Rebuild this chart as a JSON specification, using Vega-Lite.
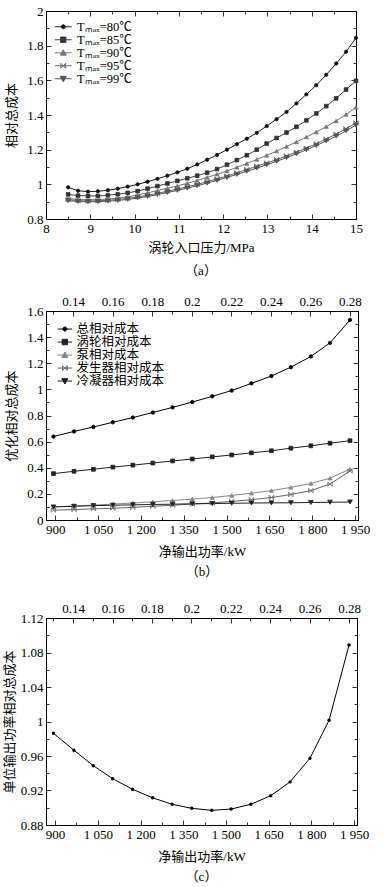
{
"$schema": "https://vega.github.io/schema/vega-lite/v6.json",
"padding": {"left": 2, "top": 4, "right": 5, "bottom": 5},
"spacing": 13,
"config": {
 "font": "Liberation Serif, Noto Sans CJK SC",
 "view": {"stroke": "#000", "strokeWidth": 1},
 "axis": {"domainColor": "#000", "domainWidth": 1, "tickColor": "#000", "tickWidth": 0.8, "labelColor": "#000", "titleColor": "#000", "labelFontSize": 13, "titleFontSize": 13, "titleFontWeight": "normal", "grid": false, "labelOverlap": false, "labelFlush": false, "labelPadding": 8, "labelFont": "Liberation Serif, Noto Sans CJK SC", "titleFont": "Liberation Serif, Noto Sans CJK SC"},
 "legend": {"labelFont": "Liberation Serif, Noto Sans CJK SC", "labelFontSize": 12.5, "labelColor": "#000"},
 "title": {"font": "Liberation Serif, Noto Sans CJK SC", "fontSize": 13, "fontWeight": "normal", "color": "#000"}
},
"datasets": {
 "a": [
  {"p":8.5,"c":0.983,"s":"80"},{"p":8.724,"c":0.963,"s":"80"},{"p":8.948,"c":0.958,"s":"80"},{"p":9.172,"c":0.96,"s":"80"},{"p":9.397,"c":0.966,"s":"80"},{"p":9.621,"c":0.975,"s":"80"},{"p":9.845,"c":0.987,"s":"80"},{"p":10.069,"c":1.0,"s":"80"},{"p":10.293,"c":1.015,"s":"80"},{"p":10.517,"c":1.032,"s":"80"},{"p":10.741,"c":1.05,"s":"80"},{"p":10.966,"c":1.069,"s":"80"},{"p":11.19,"c":1.09,"s":"80"},{"p":11.414,"c":1.115,"s":"80"},{"p":11.638,"c":1.142,"s":"80"},{"p":11.862,"c":1.17,"s":"80"},{"p":12.086,"c":1.2,"s":"80"},{"p":12.31,"c":1.232,"s":"80"},{"p":12.534,"c":1.263,"s":"80"},{"p":12.759,"c":1.297,"s":"80"},{"p":12.983,"c":1.336,"s":"80"},{"p":13.207,"c":1.376,"s":"80"},{"p":13.431,"c":1.418,"s":"80"},{"p":13.655,"c":1.467,"s":"80"},{"p":13.879,"c":1.519,"s":"80"},{"p":14.103,"c":1.572,"s":"80"},{"p":14.328,"c":1.632,"s":"80"},{"p":14.552,"c":1.697,"s":"80"},{"p":14.776,"c":1.765,"s":"80"},{"p":15,"c":1.845,"s":"80"},
  {"p":8.5,"c":0.942,"s":"85"},{"p":8.724,"c":0.935,"s":"85"},{"p":8.948,"c":0.933,"s":"85"},{"p":9.172,"c":0.933,"s":"85"},{"p":9.397,"c":0.937,"s":"85"},{"p":9.621,"c":0.943,"s":"85"},{"p":9.845,"c":0.951,"s":"85"},{"p":10.069,"c":0.961,"s":"85"},{"p":10.293,"c":0.975,"s":"85"},{"p":10.517,"c":0.99,"s":"85"},{"p":10.741,"c":1.005,"s":"85"},{"p":10.966,"c":1.02,"s":"85"},{"p":11.19,"c":1.035,"s":"85"},{"p":11.414,"c":1.05,"s":"85"},{"p":11.638,"c":1.067,"s":"85"},{"p":11.862,"c":1.088,"s":"85"},{"p":12.086,"c":1.113,"s":"85"},{"p":12.31,"c":1.14,"s":"85"},{"p":12.534,"c":1.168,"s":"85"},{"p":12.759,"c":1.2,"s":"85"},{"p":12.983,"c":1.235,"s":"85"},{"p":13.207,"c":1.267,"s":"85"},{"p":13.431,"c":1.299,"s":"85"},{"p":13.655,"c":1.332,"s":"85"},{"p":13.879,"c":1.369,"s":"85"},{"p":14.103,"c":1.409,"s":"85"},{"p":14.328,"c":1.451,"s":"85"},{"p":14.552,"c":1.496,"s":"85"},{"p":14.776,"c":1.547,"s":"85"},{"p":15,"c":1.597,"s":"85"},
  {"p":8.5,"c":0.918,"s":"90"},{"p":8.724,"c":0.913,"s":"90"},{"p":8.948,"c":0.911,"s":"90"},{"p":9.172,"c":0.912,"s":"90"},{"p":9.397,"c":0.915,"s":"90"},{"p":9.621,"c":0.92,"s":"90"},{"p":9.845,"c":0.928,"s":"90"},{"p":10.069,"c":0.939,"s":"90"},{"p":10.293,"c":0.951,"s":"90"},{"p":10.517,"c":0.964,"s":"90"},{"p":10.741,"c":0.977,"s":"90"},{"p":10.966,"c":0.991,"s":"90"},{"p":11.19,"c":1.006,"s":"90"},{"p":11.414,"c":1.022,"s":"90"},{"p":11.638,"c":1.04,"s":"90"},{"p":11.862,"c":1.058,"s":"90"},{"p":12.086,"c":1.077,"s":"90"},{"p":12.31,"c":1.098,"s":"90"},{"p":12.534,"c":1.12,"s":"90"},{"p":12.759,"c":1.143,"s":"90"},{"p":12.983,"c":1.167,"s":"90"},{"p":13.207,"c":1.192,"s":"90"},{"p":13.431,"c":1.218,"s":"90"},{"p":13.655,"c":1.245,"s":"90"},{"p":13.879,"c":1.273,"s":"90"},{"p":14.103,"c":1.302,"s":"90"},{"p":14.328,"c":1.333,"s":"90"},{"p":14.552,"c":1.366,"s":"90"},{"p":14.776,"c":1.403,"s":"90"},{"p":15,"c":1.444,"s":"90"},
  {"p":8.5,"c":0.912,"s":"95"},{"p":8.724,"c":0.906,"s":"95"},{"p":8.948,"c":0.904,"s":"95"},{"p":9.172,"c":0.905,"s":"95"},{"p":9.397,"c":0.908,"s":"95"},{"p":9.621,"c":0.913,"s":"95"},{"p":9.845,"c":0.919,"s":"95"},{"p":10.069,"c":0.927,"s":"95"},{"p":10.293,"c":0.937,"s":"95"},{"p":10.517,"c":0.948,"s":"95"},{"p":10.741,"c":0.96,"s":"95"},{"p":10.966,"c":0.973,"s":"95"},{"p":11.19,"c":0.986,"s":"95"},{"p":11.414,"c":1.0,"s":"95"},{"p":11.638,"c":1.015,"s":"95"},{"p":11.862,"c":1.031,"s":"95"},{"p":12.086,"c":1.048,"s":"95"},{"p":12.31,"c":1.066,"s":"95"},{"p":12.534,"c":1.085,"s":"95"},{"p":12.759,"c":1.104,"s":"95"},{"p":12.983,"c":1.123,"s":"95"},{"p":13.207,"c":1.143,"s":"95"},{"p":13.431,"c":1.164,"s":"95"},{"p":13.655,"c":1.186,"s":"95"},{"p":13.879,"c":1.209,"s":"95"},{"p":14.103,"c":1.234,"s":"95"},{"p":14.328,"c":1.261,"s":"95"},{"p":14.552,"c":1.29,"s":"95"},{"p":14.776,"c":1.321,"s":"95"},{"p":15,"c":1.354,"s":"95"},
  {"p":8.5,"c":0.906,"s":"99"},{"p":8.724,"c":0.901,"s":"99"},{"p":8.948,"c":0.899,"s":"99"},{"p":9.172,"c":0.9,"s":"99"},{"p":9.397,"c":0.903,"s":"99"},{"p":9.621,"c":0.907,"s":"99"},{"p":9.845,"c":0.913,"s":"99"},{"p":10.069,"c":0.921,"s":"99"},{"p":10.293,"c":0.93,"s":"99"},{"p":10.517,"c":0.941,"s":"99"},{"p":10.741,"c":0.953,"s":"99"},{"p":10.966,"c":0.965,"s":"99"},{"p":11.19,"c":0.978,"s":"99"},{"p":11.414,"c":0.992,"s":"99"},{"p":11.638,"c":1.007,"s":"99"},{"p":11.862,"c":1.023,"s":"99"},{"p":12.086,"c":1.04,"s":"99"},{"p":12.31,"c":1.057,"s":"99"},{"p":12.534,"c":1.075,"s":"99"},{"p":12.759,"c":1.094,"s":"99"},{"p":12.983,"c":1.113,"s":"99"},{"p":13.207,"c":1.133,"s":"99"},{"p":13.431,"c":1.154,"s":"99"},{"p":13.655,"c":1.176,"s":"99"},{"p":13.879,"c":1.199,"s":"99"},{"p":14.103,"c":1.224,"s":"99"},{"p":14.328,"c":1.25,"s":"99"},{"p":14.552,"c":1.278,"s":"99"},{"p":14.776,"c":1.309,"s":"99"},{"p":15,"c":1.342,"s":"99"}
 ],
 "b": [
  {"r":0.13,"w":894,"c":0.639,"s":"总相对成本"},{"r":0.14,"w":966,"c":0.678,"s":"总相对成本"},{"r":0.15,"w":1034,"c":0.712,"s":"总相对成本"},{"r":0.16,"w":1102,"c":0.748,"s":"总相对成本"},{"r":0.17,"w":1172,"c":0.784,"s":"总相对成本"},{"r":0.18,"w":1242,"c":0.823,"s":"总相对成本"},{"r":0.19,"w":1311,"c":0.862,"s":"总相对成本"},{"r":0.2,"w":1380,"c":0.903,"s":"总相对成本"},{"r":0.21,"w":1450,"c":0.947,"s":"总相对成本"},{"r":0.22,"w":1518,"c":0.991,"s":"总相对成本"},{"r":0.23,"w":1587,"c":1.046,"s":"总相对成本"},{"r":0.24,"w":1657,"c":1.102,"s":"总相对成本"},{"r":0.25,"w":1725,"c":1.17,"s":"总相对成本"},{"r":0.26,"w":1795,"c":1.252,"s":"总相对成本"},{"r":0.27,"w":1862,"c":1.356,"s":"总相对成本"},{"r":0.28,"w":1932,"c":1.532,"s":"总相对成本"},
  {"r":0.13,"w":894,"c":0.355,"s":"涡轮相对成本"},{"r":0.14,"w":966,"c":0.373,"s":"涡轮相对成本"},{"r":0.15,"w":1034,"c":0.388,"s":"涡轮相对成本"},{"r":0.16,"w":1102,"c":0.405,"s":"涡轮相对成本"},{"r":0.17,"w":1172,"c":0.42,"s":"涡轮相对成本"},{"r":0.18,"w":1242,"c":0.436,"s":"涡轮相对成本"},{"r":0.19,"w":1311,"c":0.452,"s":"涡轮相对成本"},{"r":0.2,"w":1380,"c":0.467,"s":"涡轮相对成本"},{"r":0.21,"w":1450,"c":0.483,"s":"涡轮相对成本"},{"r":0.22,"w":1518,"c":0.498,"s":"涡轮相对成本"},{"r":0.23,"w":1587,"c":0.514,"s":"涡轮相对成本"},{"r":0.24,"w":1657,"c":0.53,"s":"涡轮相对成本"},{"r":0.25,"w":1725,"c":0.55,"s":"涡轮相对成本"},{"r":0.26,"w":1795,"c":0.568,"s":"涡轮相对成本"},{"r":0.27,"w":1862,"c":0.588,"s":"涡轮相对成本"},{"r":0.28,"w":1932,"c":0.607,"s":"涡轮相对成本"},
  {"r":0.13,"w":894,"c":0.1,"s":"泵相对成本"},{"r":0.14,"w":966,"c":0.107,"s":"泵相对成本"},{"r":0.15,"w":1034,"c":0.114,"s":"泵相对成本"},{"r":0.16,"w":1102,"c":0.122,"s":"泵相对成本"},{"r":0.17,"w":1172,"c":0.13,"s":"泵相对成本"},{"r":0.18,"w":1242,"c":0.139,"s":"泵相对成本"},{"r":0.19,"w":1311,"c":0.149,"s":"泵相对成本"},{"r":0.2,"w":1380,"c":0.16,"s":"泵相对成本"},{"r":0.21,"w":1450,"c":0.172,"s":"泵相对成本"},{"r":0.22,"w":1518,"c":0.188,"s":"泵相对成本"},{"r":0.23,"w":1587,"c":0.205,"s":"泵相对成本"},{"r":0.24,"w":1657,"c":0.225,"s":"泵相对成本"},{"r":0.25,"w":1725,"c":0.25,"s":"泵相对成本"},{"r":0.26,"w":1795,"c":0.28,"s":"泵相对成本"},{"r":0.27,"w":1862,"c":0.32,"s":"泵相对成本"},{"r":0.28,"w":1932,"c":0.39,"s":"泵相对成本"},
  {"r":0.13,"w":894,"c":0.075,"s":"发生器相对成本"},{"r":0.14,"w":966,"c":0.08,"s":"发生器相对成本"},{"r":0.15,"w":1034,"c":0.085,"s":"发生器相对成本"},{"r":0.16,"w":1102,"c":0.09,"s":"发生器相对成本"},{"r":0.17,"w":1172,"c":0.097,"s":"发生器相对成本"},{"r":0.18,"w":1242,"c":0.105,"s":"发生器相对成本"},{"r":0.19,"w":1311,"c":0.113,"s":"发生器相对成本"},{"r":0.2,"w":1380,"c":0.122,"s":"发生器相对成本"},{"r":0.21,"w":1450,"c":0.131,"s":"发生器相对成本"},{"r":0.22,"w":1518,"c":0.142,"s":"发生器相对成本"},{"r":0.23,"w":1587,"c":0.155,"s":"发生器相对成本"},{"r":0.24,"w":1657,"c":0.172,"s":"发生器相对成本"},{"r":0.25,"w":1725,"c":0.195,"s":"发生器相对成本"},{"r":0.26,"w":1795,"c":0.225,"s":"发生器相对成本"},{"r":0.27,"w":1862,"c":0.275,"s":"发生器相对成本"},{"r":0.28,"w":1932,"c":0.375,"s":"发生器相对成本"},
  {"r":0.13,"w":894,"c":0.1,"s":"冷凝器相对成本"},{"r":0.14,"w":966,"c":0.105,"s":"冷凝器相对成本"},{"r":0.15,"w":1034,"c":0.11,"s":"冷凝器相对成本"},{"r":0.16,"w":1102,"c":0.113,"s":"冷凝器相对成本"},{"r":0.17,"w":1172,"c":0.116,"s":"冷凝器相对成本"},{"r":0.18,"w":1242,"c":0.119,"s":"冷凝器相对成本"},{"r":0.19,"w":1311,"c":0.121,"s":"冷凝器相对成本"},{"r":0.2,"w":1380,"c":0.124,"s":"冷凝器相对成本"},{"r":0.21,"w":1450,"c":0.126,"s":"冷凝器相对成本"},{"r":0.22,"w":1518,"c":0.128,"s":"冷凝器相对成本"},{"r":0.23,"w":1587,"c":0.13,"s":"冷凝器相对成本"},{"r":0.24,"w":1657,"c":0.131,"s":"冷凝器相对成本"},{"r":0.25,"w":1725,"c":0.132,"s":"冷凝器相对成本"},{"r":0.26,"w":1795,"c":0.134,"s":"冷凝器相对成本"},{"r":0.27,"w":1862,"c":0.136,"s":"冷凝器相对成本"},{"r":0.28,"w":1932,"c":0.138,"s":"冷凝器相对成本"}
 ],
 "c": [
  {"r":0.13,"w":894,"c":0.9864},{"r":0.14,"w":966,"c":0.9667},{"r":0.15,"w":1034,"c":0.9488},{"r":0.16,"w":1102,"c":0.9337},{"r":0.17,"w":1172,"c":0.9214},{"r":0.18,"w":1242,"c":0.9116},{"r":0.19,"w":1311,"c":0.904},{"r":0.2,"w":1380,"c":0.8993},{"r":0.21,"w":1450,"c":0.897},{"r":0.22,"w":1518,"c":0.8985},{"r":0.23,"w":1587,"c":0.904},{"r":0.24,"w":1657,"c":0.914},{"r":0.25,"w":1725,"c":0.93},{"r":0.26,"w":1795,"c":0.9575},{"r":0.27,"w":1862,"c":1.0015},{"r":0.28,"w":1932,"c":1.0886}
 ]
},
"vconcat": [
 {
  "width": 310, "height": 208,
  "data": {"name": "a"},
  "title": {"text": "（a）", "orient": "bottom", "offset": 11},
  "layer": [
   {"mark": {"type": "line", "strokeWidth": 1},
    "encoding": {
     "x": {"field": "p", "type": "quantitative", "scale": {"domain": [8, 15], "nice": false, "zero": false},
       "axis": {"orient": "bottom", "values": [8,8.5,9,9.5,10,10.5,11,11.5,12,12.5,13,13.5,14,14.5,15], "labelExpr": "datum.value % 1 == 0 ? format(datum.value, 'd') : ''", "tickSize": {"condition": {"test": "datum.value % 1 == 0", "value": -5}, "value": -3}, "title": "涡轮入口压力/MPa", "titlePadding": 4}},
     "y": {"field": "c", "type": "quantitative", "scale": {"domain": [0.8, 2], "nice": false, "zero": false},
       "axis": {"orient": "left", "values": [0.8,0.9,1,1.1,1.2,1.3,1.4,1.5,1.6,1.7,1.8,1.9,2], "labelExpr": "abs(datum.value*5 - round(datum.value*5)) < 0.001 ? format(datum.value, '~g') : ''", "tickSize": {"condition": {"test": "abs(datum.value*5 - round(datum.value*5)) < 0.001", "value": -5}, "value": -3}, "title": "相对总成本", "titlePadding": 8}},
     "stroke": {"field": "s", "type": "nominal", "scale": {"domain": ["80","85","90","95","99"], "range": ["#222","#444","#777","#666","#555"]}, "legend": null}
    }},
   {"mark": {"type": "point", "filled": true, "strokeWidth": 0.8, "opacity": 1},
    "encoding": {
     "x": {"field": "p", "type": "quantitative", "scale": {"domain": [8, 15], "nice": false, "zero": false},
       "axis": {"orient": "top", "values": [8,8.5,9,9.5,10,10.5,11,11.5,12,12.5,13,13.5,14,14.5,15], "labels": false, "tickSize": {"condition": {"test": "datum.value % 1 == 0", "value": -5}, "value": -3}, "title": null}},
     "y": {"field": "c", "type": "quantitative", "scale": {"domain": [0.8, 2], "nice": false, "zero": false},
       "axis": {"orient": "right", "values": [0.8,0.9,1,1.1,1.2,1.3,1.4,1.5,1.6,1.7,1.8,1.9,2], "labels": false, "tickSize": {"condition": {"test": "abs(datum.value*5 - round(datum.value*5)) < 0.001", "value": -5}, "value": -3}, "title": null}},
     "shape": {"field": "s", "type": "nominal", "scale": {"domain": ["80","85","90","95","99"], "range": ["circle","square","triangle-up","M-1,-1L1,1M-1,1L1,-1M-1,-1V1M1,-1V1","triangle-down"]}, "legend": null},
     "fill": {"field": "s", "type": "nominal", "scale": {"domain": ["80","85","90","95","99"], "range": ["#111","#333","#777","#555","#555"]}, "legend": null},
     "stroke": {"field": "s", "type": "nominal", "scale": {"domain": ["80","85","90","95","99"], "range": ["#111","#333","#777","#555","#555"]}, "legend": null},
     "size": {"field": "s", "type": "nominal", "scale": {"domain": ["80","85","90","95","99"], "range": [11,22,18,16,18]}, "legend": null}
    }},
   {"mark": {"type": "point", "filled": true, "opacity": 0},
    "encoding": {
     "x": {"field": "p", "type": "quantitative", "scale": {"domain": [8, 15], "nice": false, "zero": false}, "axis": null},
     "y": {"field": "c", "type": "quantitative", "scale": {"domain": [0.8, 2], "nice": false, "zero": false}, "axis": null},
     "shape": {"field": "s", "type": "nominal", "scale": {"domain": ["80","85","90","95","99"], "range": ["M-2.8,0H2.8M0.67,0A0.67,0.67,0,1,1,-0.67,0A0.67,0.67,0,1,1,0.67,0Z","M-2.8,0H2.8M-0.9,-0.9H0.9V0.9H-0.9Z","M-2.8,0H2.8M0,-1L1,0.8H-1Z","M-2.8,0H2.8M-0.8,-0.8L0.8,0.8M-0.8,0.8L0.8,-0.8M-0.8,-0.8V0.8M0.8,-0.8V0.8","M-2.8,0H2.8M0,1L1,-0.8H-1Z"]},
       "legend": {"title": null, "orient": "none", "legendX": 11, "legendY": 9.5, "symbolSize": 36, "symbolStrokeWidth": 1, "symbolOpacity": 1, "labelOffset": 7.5, "rowPadding": 0, "padding": 0, "labelExpr": "'Tₘₐₓ=' + datum.label + '℃'"}},
     "fill": {"field": "s", "type": "nominal", "scale": {"domain": ["80","85","90","95","99"], "range": ["#111","#333","#777","#555","#555"]},
       "legend": {"title": null, "orient": "none", "legendX": 11, "legendY": 9.5, "symbolSize": 36, "symbolStrokeWidth": 1, "symbolOpacity": 1, "labelOffset": 7.5, "rowPadding": 0, "padding": 0, "labelExpr": "'Tₘₐₓ=' + datum.label + '℃'"}},
     "stroke": {"field": "s", "type": "nominal", "scale": {"domain": ["80","85","90","95","99"], "range": ["#222","#444","#777","#666","#555"]},
       "legend": {"title": null, "orient": "none", "legendX": 11, "legendY": 9.5, "symbolSize": 36, "symbolStrokeWidth": 1, "symbolOpacity": 1, "labelOffset": 7.5, "rowPadding": 0, "padding": 0, "labelExpr": "'Tₘₐₓ=' + datum.label + '℃'"}}
    }}
  ],
  "resolve": {"scale": {"x": "independent", "y": "independent", "shape": "independent", "fill": "independent", "stroke": "independent", "size": "independent"}, "axis": {"x": "independent", "y": "independent"}}
 },
 {
  "width": 312, "height": 209,
  "data": {"name": "b"},
  "title": {"text": ["（b）", ""], "orient": "bottom", "offset": 8, "lineHeight": 6},
  "layer": [
   {"mark": {"type": "line", "strokeWidth": 1},
    "encoding": {
     "x": {"field": "w", "type": "quantitative", "scale": {"domain": [868, 1960], "nice": false, "zero": false},
       "axis": {"orient": "bottom", "values": [900,975,1050,1125,1200,1275,1350,1425,1500,1575,1650,1725,1800,1875,1950], "labelExpr": "(datum.value - 900) % 150 == 0 ? replace(format(datum.value, ','), ',', ' ') : ''", "tickSize": {"condition": {"test": "(datum.value - 900) % 150 == 0", "value": -5}, "value": -3}, "title": "净输出功率/kW", "titlePadding": 7}},
     "y": {"field": "c", "type": "quantitative", "scale": {"domain": [0, 1.6], "nice": false, "zero": false},
       "axis": {"orient": "left", "values": [0,0.1,0.2,0.3,0.4,0.5,0.6,0.7,0.8,0.9,1,1.1,1.2,1.3,1.4,1.5,1.6], "labelExpr": "abs(datum.value*5 - round(datum.value*5)) < 0.001 ? format(datum.value, '~g') : ''", "tickSize": {"condition": {"test": "abs(datum.value*5 - round(datum.value*5)) < 0.001", "value": -5}, "value": -3}, "title": "优化相对总成本", "titlePadding": 8}},
     "stroke": {"field": "s", "type": "nominal", "scale": {"domain": ["总相对成本","涡轮相对成本","泵相对成本","发生器相对成本","冷凝器相对成本"], "range": ["#000","#222","#888","#666","#222"]}, "legend": null}
    }},
   {"mark": {"type": "point", "filled": true, "strokeWidth": 0.8, "opacity": 1},
    "encoding": {
     "x": {"field": "w", "type": "quantitative", "scale": {"domain": [868, 1960], "nice": false, "zero": false}, "axis": null},
     "y": {"field": "c", "type": "quantitative", "scale": {"domain": [0, 1.6], "nice": false, "zero": false},
       "axis": {"orient": "right", "values": [0,0.1,0.2,0.3,0.4,0.5,0.6,0.7,0.8,0.9,1,1.1,1.2,1.3,1.4,1.5,1.6], "labels": false, "tickSize": {"condition": {"test": "abs(datum.value*5 - round(datum.value*5)) < 0.001", "value": -5}, "value": -3}, "title": null}},
     "shape": {"field": "s", "type": "nominal", "scale": {"domain": ["总相对成本","涡轮相对成本","泵相对成本","发生器相对成本","冷凝器相对成本"], "range": ["circle","square","triangle-up","M-1,-1L1,1M-1,1L1,-1M-1,-1V1M1,-1V1","triangle-down"]}, "legend": null},
     "fill": {"field": "s", "type": "nominal", "scale": {"domain": ["总相对成本","涡轮相对成本","泵相对成本","发生器相对成本","冷凝器相对成本"], "range": ["#000","#222","#888","#666","#222"]}, "legend": null},
     "stroke": {"field": "s", "type": "nominal", "scale": {"domain": ["总相对成本","涡轮相对成本","泵相对成本","发生器相对成本","冷凝器相对成本"], "range": ["#000","#222","#888","#666","#222"]}, "legend": null},
     "size": {"field": "s", "type": "nominal", "scale": {"domain": ["总相对成本","涡轮相对成本","泵相对成本","发生器相对成本","冷凝器相对成本"], "range": [12,22,18,16,18]}, "legend": null}
    }},
   {"mark": {"type": "point", "filled": true, "opacity": 0},
    "encoding": {
     "x": {"field": "w", "type": "quantitative", "scale": {"domain": [868, 1960], "nice": false, "zero": false}, "axis": null},
     "y": {"field": "c", "type": "quantitative", "scale": {"domain": [0, 1.6], "nice": false, "zero": false}, "axis": null},
     "shape": {"field": "s", "type": "nominal", "scale": {"domain": ["总相对成本","涡轮相对成本","泵相对成本","发生器相对成本","冷凝器相对成本"], "range": ["M-2.4,0H2.4M0.67,0A0.67,0.67,0,1,1,-0.67,0A0.67,0.67,0,1,1,0.67,0Z","M-2.4,0H2.4M-0.9,-0.9H0.9V0.9H-0.9Z","M-2.4,0H2.4M0,-1L1,0.8H-1Z","M-2.4,0H2.4M-0.8,-0.8L0.8,0.8M-0.8,0.8L0.8,-0.8M-0.8,-0.8V0.8M0.8,-0.8V0.8","M-2.4,0H2.4M0,1L1,-0.8H-1Z"]},
       "legend": {"title": null, "orient": "none", "legendX": 12.6, "legendY": 11.8, "symbolSize": 36, "symbolStrokeWidth": 1, "symbolOpacity": 1, "labelOffset": 5.4, "rowPadding": 0, "padding": 0}},
     "fill": {"field": "s", "type": "nominal", "scale": {"domain": ["总相对成本","涡轮相对成本","泵相对成本","发生器相对成本","冷凝器相对成本"], "range": ["#000","#222","#888","#666","#222"]},
       "legend": {"title": null, "orient": "none", "legendX": 12.6, "legendY": 11.8, "symbolSize": 36, "symbolStrokeWidth": 1, "symbolOpacity": 1, "labelOffset": 5.4, "rowPadding": 0, "padding": 0}},
     "stroke": {"field": "s", "type": "nominal", "scale": {"domain": ["总相对成本","涡轮相对成本","泵相对成本","发生器相对成本","冷凝器相对成本"], "range": ["#000","#222","#888","#666","#222"]},
       "legend": {"title": null, "orient": "none", "legendX": 12.6, "legendY": 11.8, "symbolSize": 36, "symbolStrokeWidth": 1, "symbolOpacity": 1, "labelOffset": 5.4, "rowPadding": 0, "padding": 0}}
    }},
   {"mark": {"type": "point", "opacity": 0},
    "encoding": {
     "x": {"field": "r", "type": "quantitative", "scale": {"domain": [0.12624, 0.28405], "nice": false, "zero": false},
       "axis": {"orient": "top", "values": [0.13,0.14,0.15,0.16,0.17,0.18,0.19,0.2,0.21,0.22,0.23,0.24,0.25,0.26,0.27,0.28], "labelExpr": "abs(datum.value*50 - round(datum.value*50)) < 0.001 ? format(datum.value, '~g') : ''", "tickSize": {"condition": {"test": "abs(datum.value*50 - round(datum.value*50)) < 0.001", "value": -5}, "value": -3}, "title": null}},
     "y": {"field": "c", "type": "quantitative", "scale": {"domain": [0, 1.6], "nice": false, "zero": false}, "axis": null}
    }}
  ],
  "resolve": {"scale": {"x": "independent", "y": "independent", "shape": "independent", "fill": "independent", "stroke": "independent", "size": "independent"}, "axis": {"x": "independent", "y": "independent"}}
 },
 {
  "width": 311, "height": 207,
  "data": {"name": "c"},
  "title": {"text": "（c）", "orient": "bottom", "offset": 8},
  "layer": [
   {"mark": {"type": "line", "strokeWidth": 1, "color": "#000"},
    "encoding": {
     "x": {"field": "w", "type": "quantitative", "scale": {"domain": [868, 1960], "nice": false, "zero": false},
       "axis": {"orient": "bottom", "values": [900,975,1050,1125,1200,1275,1350,1425,1500,1575,1650,1725,1800,1875,1950], "labelExpr": "(datum.value - 900) % 150 == 0 ? replace(format(datum.value, ','), ',', ' ') : ''", "tickSize": {"condition": {"test": "(datum.value - 900) % 150 == 0", "value": -5}, "value": -3}, "title": "净输出功率/kW", "titlePadding": 7}},
     "y": {"field": "c", "type": "quantitative", "scale": {"domain": [0.88, 1.12], "nice": false, "zero": false},
       "axis": {"orient": "left", "values": [0.88,0.9,0.92,0.94,0.96,0.98,1,1.02,1.04,1.06,1.08,1.1,1.12], "labelExpr": "abs(datum.value*25 - round(datum.value*25)) < 0.001 ? format(datum.value, '~g') : ''", "tickSize": {"condition": {"test": "abs(datum.value*25 - round(datum.value*25)) < 0.001", "value": -5}, "value": -3}, "title": "单位输出功率相对总成本", "titlePadding": 4}}
    }},
   {"mark": {"type": "point", "filled": true, "color": "#000", "size": 12, "opacity": 1},
    "encoding": {
     "x": {"field": "w", "type": "quantitative", "scale": {"domain": [868, 1960], "nice": false, "zero": false}, "axis": null},
     "y": {"field": "c", "type": "quantitative", "scale": {"domain": [0.88, 1.12], "nice": false, "zero": false},
       "axis": {"orient": "right", "values": [0.88,0.9,0.92,0.94,0.96,0.98,1,1.02,1.04,1.06,1.08,1.1,1.12], "labels": false, "tickSize": {"condition": {"test": "abs(datum.value*25 - round(datum.value*25)) < 0.001", "value": -5}, "value": -3}, "title": null}}
    }},
   {"mark": {"type": "point", "opacity": 0},
    "encoding": {
     "x": {"field": "r", "type": "quantitative", "scale": {"domain": [0.12624, 0.28405], "nice": false, "zero": false},
       "axis": {"orient": "top", "values": [0.13,0.14,0.15,0.16,0.17,0.18,0.19,0.2,0.21,0.22,0.23,0.24,0.25,0.26,0.27,0.28], "labelExpr": "abs(datum.value*50 - round(datum.value*50)) < 0.001 ? format(datum.value, '~g') : ''", "tickSize": {"condition": {"test": "abs(datum.value*50 - round(datum.value*50)) < 0.001", "value": -5}, "value": -3}, "title": null}},
     "y": {"field": "c", "type": "quantitative", "scale": {"domain": [0.88, 1.12], "nice": false, "zero": false}, "axis": null}
    }}
  ],
  "resolve": {"scale": {"x": "independent", "y": "independent"}, "axis": {"x": "independent", "y": "independent"}}
 }
]
}
